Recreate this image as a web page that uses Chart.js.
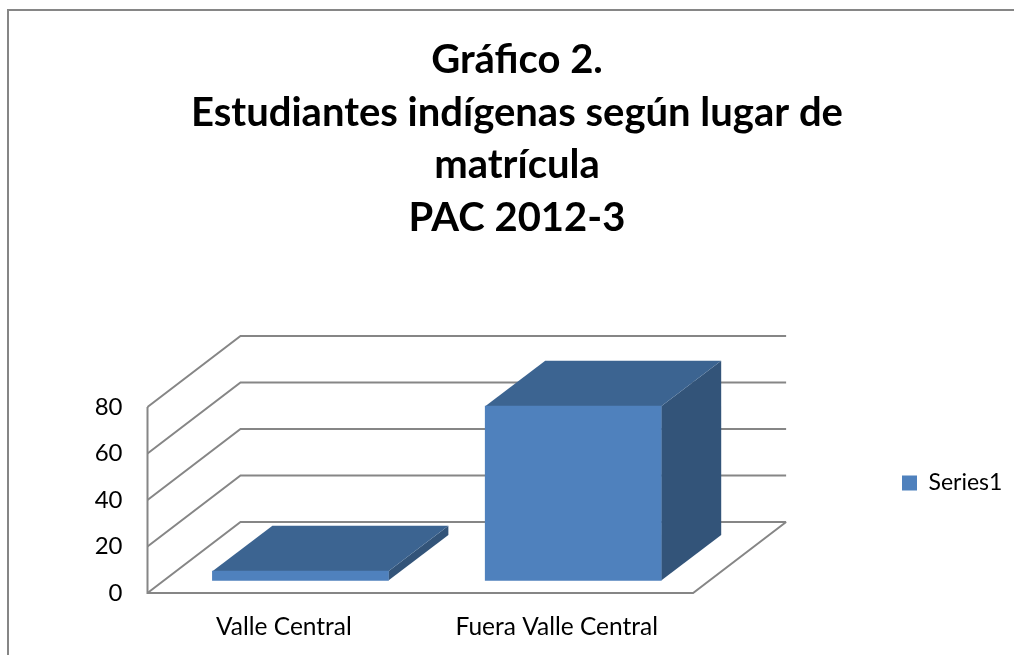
<!DOCTYPE html>
<html lang="es">

<head>
  <meta charset="UTF-8" />
  <title>Estudiantes indígenas según lugar de matrícula</title>
  <script src="https://cdn.jsdelivr.net/npm/chart.js"></script>
  <style>
    html, body {
      margin: 0;
      background: #fff;
      overflow: hidden;
    }

    canvas {
      position: absolute;
      left: 0;
      top: 0;
    }

    .frame {
      position: absolute;
      left: 7px;
      top: 9px;
      width: 1007px;
      height: 646px;
      border-top: 2px solid #868686;
      border-left: 2px solid #868686;
    }
  </style>
</head>

<body>
  <div class="frame"></div>
  <canvas id="grafico" width="1014" height="655"></canvas>

  <script>
    // Datos
    const titleLines = ["Gráfico 2.", "Estudiantes indígenas según lugar de", "matrícula", "PAC 2012-3"];
    const categories = ["Valle Central", "Fuera Valle Central"];
    const seriesName = "Series1";
    const seriesValues = [4, 75];
    const yTicks = [0, 20, 40, 60, 80];

    const gridColor = "#868686";
    const frontColor = "#4f81bd";
    const topColor = "#3c6491";
    const sideColor = "#335479";

    // Profundidad de la pseudo vista 3D (px)
    const wall = { dx: 93, dy: -71 };
    const barDepth = { dx: 60, dy: -45.5 };
    const barShift = { dx: 16.5, dy: -12.5 };

    const poly = (ctx, pts, color) => {
      ctx.fillStyle = color;
      ctx.beginPath();
      pts.forEach((p, i) => i ? ctx.lineTo(p[0], p[1]) : ctx.moveTo(p[0], p[1]));
      ctx.closePath();
      ctx.fill();
    };

    const walls3d = {
      id: "walls3d",
      afterLayout(chart) {
        // la leyenda y el titulo no siguen el relleno derecho del grafico
        const lg = chart.legend;
        const pad = lg.options.labels.padding;
        lg.left = 902 - pad;
        lg.right = lg.left + lg.width;
        lg.top = 0;
        lg.bottom = 966;
        chart.titleBlock.right = 1014;
      },
      beforeDatasetsDraw(chart) {
        const { ctx, scales: { x, y }, chartArea: a } = chart;
        ctx.save();
        ctx.strokeStyle = gridColor;
        ctx.lineWidth = 2;
        yTicks.forEach(v => {
          const py = y.getPixelForValue(v);
          ctx.beginPath();
          ctx.moveTo(a.left, py);
          ctx.lineTo(a.left + wall.dx, py + wall.dy);
          ctx.lineTo(a.right + wall.dx, py + wall.dy);
          ctx.stroke();
        });
        const y0 = y.getPixelForValue(0);
        ctx.beginPath();
        ctx.moveTo(a.left, y.getPixelForValue(yTicks[yTicks.length - 1]));
        ctx.lineTo(a.left, y0);
        ctx.lineTo(a.right, y0);
        ctx.lineTo(a.right + wall.dx, y0 + wall.dy);
        ctx.stroke();
        ctx.restore();
      },
      beforeDatasetDraw(chart, args) {
        const ctx = chart.ctx;
        ctx.save();
        ctx.translate(barShift.dx, barShift.dy);
        args.meta.data.forEach(bar => {
          const l = bar.x - bar.width / 2;
          const r = bar.x + bar.width / 2;
          const { dx, dy } = barDepth;
          poly(ctx, [[r, bar.y], [r + dx, bar.y + dy], [r + dx, bar.base + dy], [r, bar.base]], sideColor);
          poly(ctx, [[l, bar.y], [l + dx, bar.y + dy], [r + dx, bar.y + dy], [r, bar.y]], topColor);
        });
      },
      afterDatasetDraw(chart) {
        chart.ctx.restore();
      }
    };

    new Chart(document.getElementById("grafico").getContext("2d"), {
      type: "bar",
      data: {
        labels: categories,
        datasets: [{
          label: seriesName,
          data: seriesValues,
          backgroundColor: frontColor,
          barThickness: 176,
          clip: false
        }]
      },
      plugins: [walls3d],
      options: {
        responsive: false,
        animation: false,
        layout: { padding: { left: 20, right: 200.5, top: 0, bottom: 14 } },
        plugins: {
          tooltip: { enabled: false },
          title: {
            display: true,
            text: titleLines,
            color: "#000",
            font: { family: "Lato", size: 40, weight: "bold", lineHeight: 1.3125 },
            padding: { top: 34, bottom: 163 }
          },
          legend: {
            position: "right",
            labels: {
              boxWidth: 15,
              boxHeight: 15,
              padding: 10,
              color: "#000",
              font: { family: "Lato", size: 23 }
            }
          }
        },
        scales: {
          x: {
            grid: { display: false, drawTicks: false },
            border: { display: false },
            afterFit: s => { s.height = 48; },
            ticks: { color: "#000", padding: 19, maxRotation: 0, font: { family: "Lato", size: 24.5 } }
          },
          y: {
            min: 0,
            max: 80,
            afterFit: s => { s.width = 127.5; },
            afterBuildTicks: s => { s.ticks = yTicks.map(v => ({ value: v })); },
            grid: { display: false, drawTicks: false },
            border: { display: false },
            ticks: { color: "#000", padding: 25, font: { family: "Lato", size: 24 } }
          }
        }
      }
    });
  </script>
</body>

</html>
